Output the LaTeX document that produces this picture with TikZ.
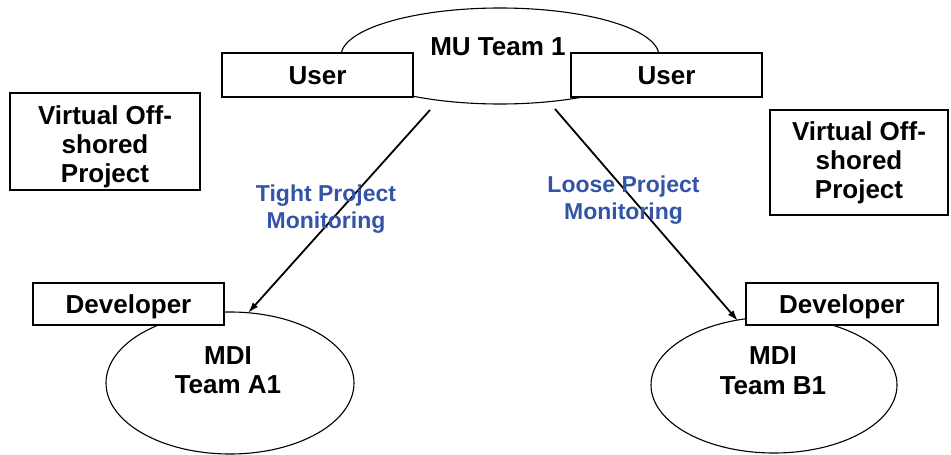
\documentclass[tikz,border=0pt]{standalone}
\usepackage{fontspec}
\setmainfont{Liberation Sans}
\usetikzlibrary{arrows.meta,shapes.geometric}
\definecolor{monblue}{RGB}{52,84,168}
\tikzset{
  boxnode/.style={draw=black, line width=1.3pt, fill=white, inner sep=0pt,
     font=\fontsize{26}{26}\selectfont\bfseries, text height=18.7pt, text depth=0pt},
  framebox/.style={draw=black, line width=1.3pt, inner sep=0pt},
  ovalnode/.style={draw=black, line width=1.1pt, ellipse, inner sep=0pt},
  blacktext/.style={align=center, inner sep=0pt, font=\fontsize{26}{29}\selectfont\bfseries},
  teamtext/.style={align=center, inner sep=0pt, font=\fontsize{26}{29.5}\selectfont\bfseries},
  bluetext/.style={align=center, inner sep=0pt, text=monblue, font=\fontsize{23}{27}\selectfont\bfseries},
  conn/.style={line width=1.8pt, -{Latex[length=11pt,width=7pt]}}
}
\begin{document}
\begin{tikzpicture}[x=1pt,y=-1pt]
\useasboundingbox (0,0) rectangle (951,455);
% top oval
\node[ovalnode, minimum width=318, minimum height=96] (mu) at (500,56) {};
\node[boxnode, minimum width=191, minimum height=44] (userl) at (317.5,75) {User};
\node[boxnode, minimum width=191, minimum height=44] (userr) at (666.5,75) {User};
\node[inner sep=0pt, font=\fontsize{26}{26}\selectfont\bfseries, text height=18.7pt, text depth=0pt] (mutext) at (498,45.7) {MU Team 1};
% virtual boxes
\node[framebox, minimum width=190, minimum height=97] (vl) at (105,141.5) {};
\node[blacktext] (vltext) at (105,146.4) {Virtual Off-\\shored\\Project};
\node[framebox, minimum width=178, minimum height=105] (vr) at (859,162.5) {};
\node[blacktext] (vrtext) at (859,162.4) {Virtual Off-\\shored\\Project};
% bottom ovals
\node[ovalnode, minimum width=248, minimum height=142] (a1) at (230,383) {};
\node[ovalnode, minimum width=246, minimum height=136] (b1) at (774,385) {};
\node[boxnode, minimum width=191, minimum height=42] (devl) at (128.5,304) {Developer};
\node[boxnode, minimum width=192, minimum height=42] (devr) at (842,304) {Developer};
\node[teamtext] (a1text) at (228,370.2) {MDI\\Team A1};
\node[teamtext] (b1text) at (773,370.6) {MDI\\Team B1};
% connectors
\coordinate (sa) at (430,110);
\coordinate (ta) at (248,313);
\coordinate (sb) at (555,109);
\coordinate (tb) at (738,321);
\draw[conn] (sa) -- (ta);
\draw[conn] (sb) -- (tb);
% labels
\node[bluetext] (tight) at (326,209) {Tight Project\\Monitoring};
\node[bluetext] (loose) at (623.5,200.6) {Loose Project\\Monitoring};
\end{tikzpicture}
\end{document}
